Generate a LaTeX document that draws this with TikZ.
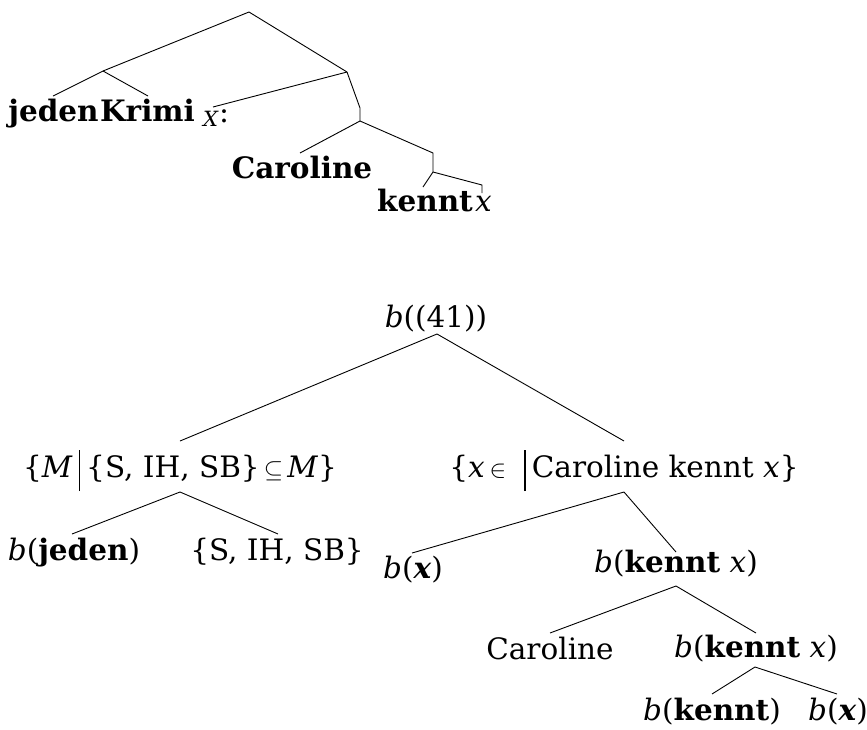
\documentclass[tikz,border=0pt]{standalone}
\usepackage{fontspec}
\setmainfont{DejaVu Serif}
\begin{document}
\begin{tikzpicture}[x=1pt,y=-1pt,
  lbl/.style={inner sep=0pt, outer sep=0pt, anchor=base, font=\fontsize{29.5}{32}\selectfont},
  blbl/.style={lbl, font=\fontsize{29.5}{32}\selectfont\bfseries},
  edge/.style={line width=0.9pt}]
\useasboundingbox (0,0) rectangle (867,729);

% ---------- upper tree ----------
\coordinate (t0) at (249,12);
\coordinate (t1) at (103,71);
\coordinate (t2) at (347,72);
\coordinate (t2b) at (360,108);
\coordinate (t3) at (360,121);
\coordinate (t3b) at (433,153);
\coordinate (t4) at (433,172);
\coordinate (t4b) at (482,185);
\coordinate (t4c) at (482,193);
\coordinate (ejeden) at (53,96);
\coordinate (ekrimi) at (148,96);
\coordinate (evar) at (213,107);
\coordinate (ecaro) at (300,153);
\coordinate (ekennt) at (423,187);

\node[blbl] (jeden) at (53.5,121) {jeden};
\node[blbl] (krimi) at (147.5,121) {Krimi};
\node[lbl, anchor=base west, font=\fontsize{21}{24}\selectfont\itshape] (var) at (203,126) {X};
\node[lbl, anchor=base west] (colon) at (219,122) {:};
\node[blbl] (caro) at (302,178) {Caroline};
\node[blbl] (kennt) at (425,211) {kennt};
\node[lbl, anchor=base west, font=\fontsize{29.5}{32}\selectfont\itshape] (xx) at (475,211) {x};

\draw[edge] (t0) -- (t1);
\draw[edge] (t0) -- (t2);
\draw[edge] (t1) -- (ejeden);
\draw[edge] (t1) -- (ekrimi);
\draw[edge] (t2) -- (evar);
\draw[edge] (t2) -- (t2b) -- (t3);
\draw[edge] (t3) -- (ecaro);
\draw[edge] (t3) -- (t3b) -- (t4);
\draw[edge] (t4) -- (ekennt);
\draw[edge] (t4) -- (t4b) -- (t4c);

% ---------- lower tree ----------
\node[lbl] (root) at (436,327) {\textit{b}((41))};
\node[lbl] (setM) at (180,477)
  {\{\textit{M}\hspace{6pt}\rule[-14pt]{1.6pt}{41pt}\hspace{6pt}\{S, IH, SB\}$\,\subseteq\,$\textit{M}\}};
\node[lbl] (setX) at (624,477)
  {\{\textit{x}\,$\in$\hspace{18pt}\rule[-14pt]{1.6pt}{41pt}\hspace{6pt}Caroline kennt \textit{x}\}};
\node[lbl] (bjeden) at (74,560) {\textit{b}(\textbf{jeden})};
\node[lbl] (sib) at (277,560) {\{S, IH, SB\}};
\node[lbl] (bx1) at (413,578) {\textit{b}(\textbf{\textit{x}})};
\node[lbl] (bkx1) at (676,572) {\textit{b}(\textbf{kennt} \textit{x})};
\node[lbl] (caro2) at (550,659) {Caroline};
\node[lbl] (bkx2) at (756,657) {\textit{b}(\textbf{kennt} \textit{x})};
\node[lbl] (bk) at (712,720) {\textit{b}(\textbf{kennt})};
\node[lbl] (bx2) at (838,720) {\textit{b}(\textbf{\textit{x}})};

\coordinate (r0) at (437,334);
\coordinate (eM) at (180,441);
\coordinate (eX) at (624,441);
\coordinate (m0) at (180,492);
\coordinate (ebj) at (72,534);
\coordinate (esib) at (278,534);
\coordinate (x0) at (624,492);
\coordinate (ebx1) at (412,553);
\coordinate (ebkx1) at (676,552);
\coordinate (k0) at (676,586);
\coordinate (ecaro2) at (550,633);
\coordinate (ebkx2) at (756,633);
\coordinate (k1) at (755,667);
\coordinate (ebk) at (712,694);
\coordinate (ebx2) at (837,694);

\draw[edge] (r0) -- (eM);
\draw[edge] (r0) -- (eX);
\draw[edge] (m0) -- (ebj);
\draw[edge] (m0) -- (esib);
\draw[edge] (x0) -- (ebx1);
\draw[edge] (x0) -- (ebkx1);
\draw[edge] (k0) -- (ecaro2);
\draw[edge] (k0) -- (ebkx2);
\draw[edge] (k1) -- (ebk);
\draw[edge] (k1) -- (ebx2);
\end{tikzpicture}
\end{document}
